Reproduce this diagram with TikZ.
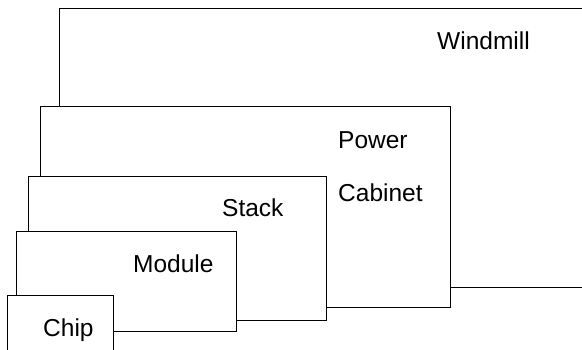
\documentclass[tikz,border=0pt]{standalone}
\usepackage{fontspec}
\setmainfont{Liberation Sans}
\begin{document}
\begin{tikzpicture}[x=1pt,y=-1pt,
  layer/.style={draw=black,fill=white,line width=1pt,rectangle,anchor=north west,inner sep=0pt,outer sep=0pt},
  lbl/.style={anchor=base west,inner sep=0pt,font=\fontsize{24.5}{28}\selectfont}]
\useasboundingbox (0,0) rectangle (582,350);
\clip (0,0) rectangle (582,350);
\node[layer,minimum width=560pt,minimum height=279pt] (windmill) at (59,9) {};
\node[layer,minimum width=410pt,minimum height=201pt] (cabinet) at (40,107) {};
\node[layer,minimum width=298pt,minimum height=144pt] (stack) at (28,177) {};
\node[layer,minimum width=220pt,minimum height=100pt] (module) at (16,232) {};
\node[layer,minimum width=106pt,minimum height=80pt] (chip) at (7,296) {};
\node[lbl] (twindmill) at (437,50) {Windmill};
\node[lbl] (tpower) at (338,149) {Power};
\node[lbl] (tcabinet) at (338,202) {Cabinet};
\node[lbl] (tstack) at (222,217) {Stack};
\node[lbl] (tmodule) at (133,273) {Module};
\node[lbl] (tchip) at (43,337) {Chip};
\end{tikzpicture}
\end{document}
